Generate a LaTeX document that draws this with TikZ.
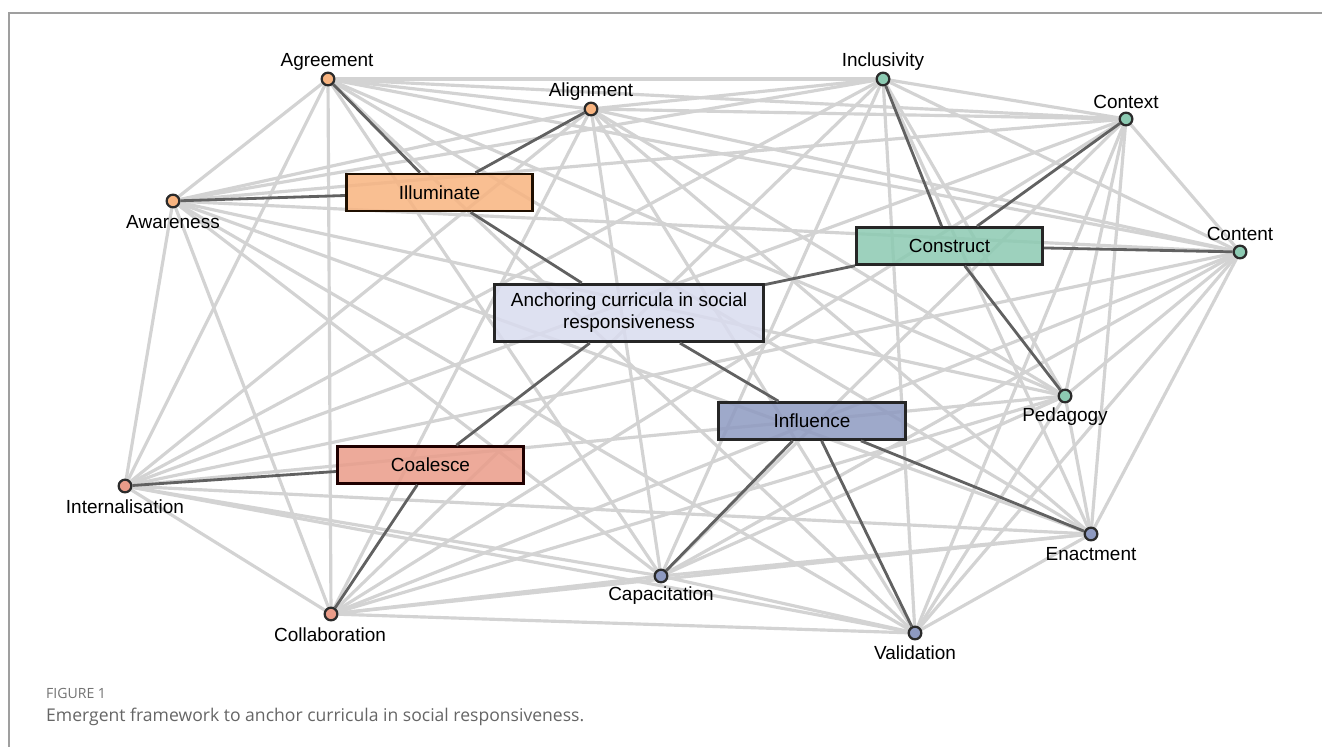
\documentclass[tikz,border=0pt]{standalone}
\usepackage{fontspec}
\setmainfont{Liberation Sans}
\newfontfamily\capfont{Open Sans}
\usetikzlibrary{backgrounds}

\definecolor{faintgray}{HTML}{D3D3D3}
\definecolor{linkgray}{HTML}{616161}
\definecolor{dotline}{HTML}{2B2B2B}
\definecolor{orangefill}{HTML}{F8B480}
\definecolor{greenfill}{HTML}{8CCAB2}
\definecolor{lilacfill}{HTML}{D9DCEF}
\definecolor{bluefill}{HTML}{8E9AC1}
\definecolor{salmonfill}{HTML}{EA9C89}

\begin{document}
\begin{tikzpicture}[x=0.02cm, y=-0.02cm,
  every node/.style={font=\fontsize{10.8}{12.5}\selectfont},
  dot/.style={circle, draw=dotline, line width=1.3pt, fill=#1, minimum size=7.2pt, inner sep=0pt},
  theme/.style={rectangle, fill=#1, line width=1.5pt, fill opacity=0.85, text opacity=1,
    minimum width=3.73cm, minimum height=0.74cm, inner sep=0pt},
  faint/.style={draw=faintgray, line width=1.8pt},
  strong/.style={draw=linkgray, line width=1.6pt}]
\useasboundingbox (0,0) rectangle (1322,747);

% outer frame
\draw[gray!75, line width=0.8pt] (1322,13) -- (9,13) -- (9,747);

% code nodes
\node[dot=orangefill] (agree) at (328,79) {};
\node[dot=orangefill] (align) at (591,109) {};
\node[dot=orangefill] (aware) at (173,201) {};
\node[dot=greenfill] (incl) at (883,79) {};
\node[dot=greenfill] (ctx) at (1126,119) {};
\node[dot=greenfill] (cont) at (1240,252) {};
\node[dot=greenfill] (peda) at (1065,396) {};
\node[dot=bluefill] (enact) at (1091,534) {};
\node[dot=bluefill] (valid) at (915,633) {};
\node[dot=bluefill] (capac) at (661,576) {};
\node[dot=salmonfill] (collab) at (331,614) {};
\node[dot=salmonfill] (intern) at (125,486) {};

\node (agree-t) at (327,62) {Agreement};
\node (align-t) at (591,92) {Alignment};
\node (aware-t) at (173,222) {Awareness};
\node (incl-t) at (883,62) {Inclusivity};
\node (ctx-t) at (1126,102) {Context};
\node (cont-t) at (1240,234) {Content};
\node (peda-t) at (1065,417) {Pedagogy};
\node (enact-t) at (1091,554) {Enactment};
\node (valid-t) at (915,653) {Validation};
\node (capac-t) at (661,596) {Capacitation};
\node (collab-t) at (330,635) {Collaboration};
\node (intern-t) at (125,507) {Internalisation};

% themes
\node[theme=orangefill, draw=black!80!orange!60!black] (illum) at (439.5,192.5) {Illuminate};
\node[theme=greenfill, draw=black!85] (constr) at (949.5,246) {Construct};
\node[theme=lilacfill, draw=black!85, minimum width=5.39cm, minimum height=1.15cm, align=center]
  (core) at (629,313) {Anchoring curricula in social\\responsiveness};
\node[theme=bluefill, draw=black!85] (influ) at (812,421) {Influence};
\node[theme=salmonfill, draw=black!80!red!60!black] (coal) at (430.5,465) {Coalesce};

\begin{scope}[on background layer]
\fill[white] (0,0) rectangle (1322,747);
\foreach \a [count=\i] in {agree,align,aware,incl,ctx,cont,peda,enact,valid,capac,collab,intern}
  \foreach \b [count=\j] in {agree,align,aware,incl,ctx,cont,peda,enact,valid,capac,collab,intern}
    {\ifnum\j>\i \draw[faint] (\a.center) -- (\b.center); \fi}
\end{scope}

\foreach \n in {agree,align,aware} \draw[strong] (illum) -- (\n);
\foreach \n in {incl,ctx,cont,peda} \draw[strong] (constr) -- (\n);
\foreach \n in {capac,valid,enact} \draw[strong] (influ) -- (\n);
\foreach \n in {intern,collab} \draw[strong] (coal) -- (\n);
\foreach \n in {illum,constr,influ,coal} \draw[strong] (core) -- (\n);

% caption
\node[anchor=west, font=\capfont\fontsize{8}{9}\selectfont, text=black!55] (fig) at (40,693) {FIGURE 1};
\node[anchor=west, font=\capfont\fontsize{10}{11}\selectfont, text=black!60] (cap) at (40,717)
  {Emergent framework to anchor curricula in social responsiveness.};
\end{tikzpicture}
\end{document}
